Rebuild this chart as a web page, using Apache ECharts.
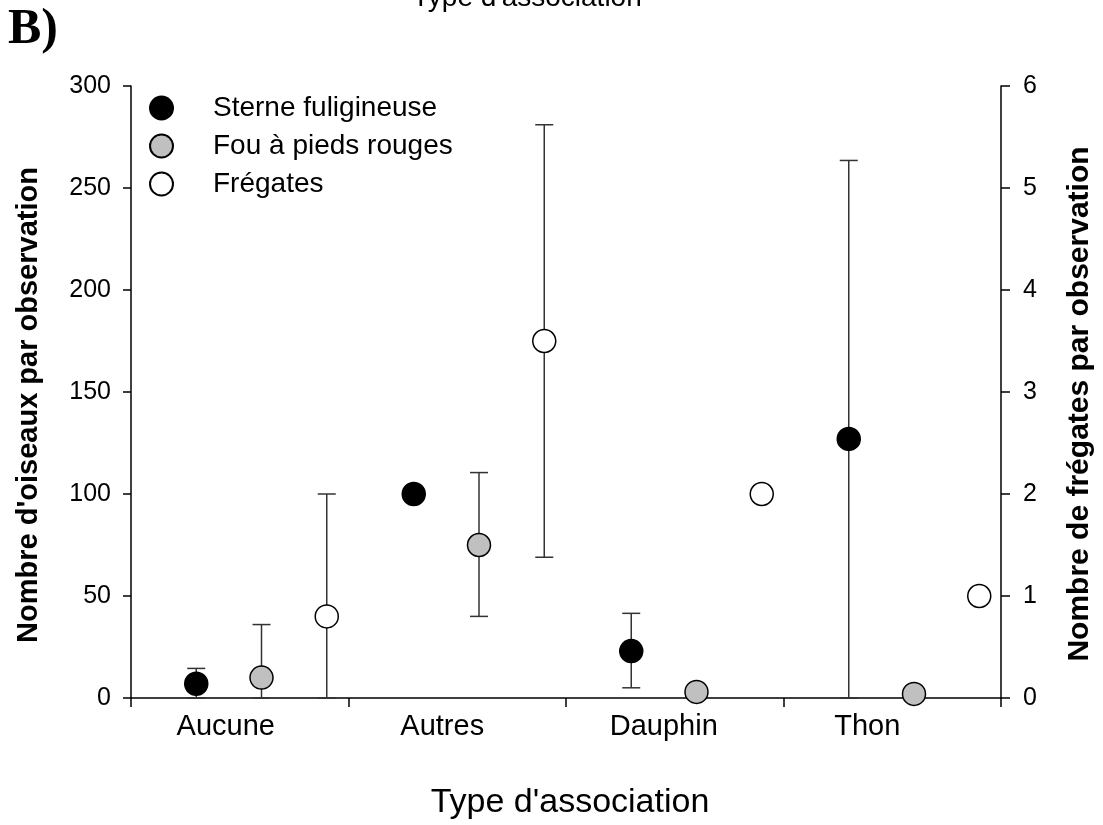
<!DOCTYPE html>
<html>
<head>
<meta charset="utf-8">
<script src="https://cdn.jsdelivr.net/npm/echarts@6/dist/echarts.min.js"></script>
<style>
html,body{margin:0;padding:0;background:#fff;}
#chart{width:1103px;height:825px;}
</style>
</head>
<body>
<div id="chart"></div>
<script>
// ---- data ----
const categories = ['Aucune', 'Autres', 'Dauphin', 'Thon'];
const seriesNames = ['Sterne fuligineuse', 'Fou à pieds rouges', 'Frégates'];
const sterneMean = [7, 100, 23, 127];
const sterneLow  = [0, null, 5, 0];
const sterneHigh = [14.5, null, 41.5, 263.5];
const fouMean = [10, 75, 3, 2];
const fouLow  = [0, 40, null, null];
const fouHigh = [36, 110.5, null, null];
const fregMean = [0.8, 3.5, 2, 1];
const fregLow  = [0, 1.38, null, null];
const fregHigh = [2.0, 5.62, null, null];
const leftTicks = [0, 50, 100, 150, 200, 250, 300];
const rightTicks = [0, 1, 2, 3, 4, 5, 6];
const xTitle = "Type d'association";
const yLeftTitle = "Nombre d'oiseaux par observation";
const yRightTitle = "Nombre de frégates par observation";

// ---- build ----
const FONT = '"Liberation Sans", Arial, sans-serif';
const offsets = [0.3, 0.6, 0.9];
const labelShift = [28, 30, 22, 50];

function pts(mean, k) {
  return mean.map((v, i) => [i + offsets[k], v]);
}
function errs(mean, lo, hi, k) {
  const out = [];
  mean.forEach((v, i) => {
    if (lo[i] != null && hi[i] != null) out.push([i + offsets[k], lo[i], hi[i]]);
  });
  return out;
}
function errRender(params, api) {
  const x = api.value(0);
  const pLo = api.coord([x, api.value(1)]);
  const pHi = api.coord([x, api.value(2)]);
  const cap = 9;
  const st = { stroke: '#333', lineWidth: 1.5 };
  return {
    type: 'group',
    children: [
      { type: 'line', shape: { x1: pLo[0], y1: pLo[1], x2: pHi[0], y2: pHi[1] }, style: st },
      { type: 'line', shape: { x1: pHi[0] - cap, y1: pHi[1], x2: pHi[0] + cap, y2: pHi[1] }, style: st },
      { type: 'line', shape: { x1: pLo[0] - cap, y1: pLo[1], x2: pLo[0] + cap, y2: pLo[1] }, style: st }
    ]
  };
}

const fills = ['#000000', '#c0c0c0', '#ffffff'];
const means = [sterneMean, fouMean, fregMean];
const lows = [sterneLow, fouLow, fregLow];
const highs = [sterneHigh, fouHigh, fregHigh];
const yIdx = [0, 0, 1];

const series = [];
for (let k = 0; k < 3; k++) {
  series.push({
    type: 'custom',
    name: seriesNames[k] + ' err',
    xAxisIndex: 0, yAxisIndex: yIdx[k],
    renderItem: errRender,
    encode: { x: 0, y: [1, 2] },
    data: errs(means[k], lows[k], highs[k], k),
    z: 2, silent: true
  });
}
for (let k = 0; k < 3; k++) {
  series.push({
    type: 'scatter',
    name: seriesNames[k],
    xAxisIndex: 0, yAxisIndex: yIdx[k],
    symbol: 'circle', symbolSize: 23,
    itemStyle: { color: fills[k], borderColor: '#000', borderWidth: 1.5, opacity: 1 },
    data: pts(means[k], k),
    z: 5
  });
}

const rich = {};
categories.forEach((c, i) => {
  rich['c' + i] = { fontSize: 29, fontFamily: FONT, color: '#000', padding: [0, labelShift[i], 0, 0] };
});

const option = {
  backgroundColor: '#fff',
  animation: false,
  textStyle: { fontFamily: FONT },
  grid: { left: 131, right: 92, top: 86, bottom: 123, containLabel: false },
  legend: {
    data: seriesNames,
    orient: 'vertical',
    left: 144, top: 89,
    itemWidth: 23, itemHeight: 23, itemGap: 10,
    icon: 'circle',
    textStyle: { fontSize: 28, color: '#000', fontFamily: FONT, padding: [0, 0, 0, 35] }
  },
  xAxis: [
    {
      type: 'value', min: 0, max: 4, interval: 1,
      position: 'bottom',
      axisLine: { show: true, lineStyle: { color: '#000', width: 1.5 } },
      axisTick: { show: true, inside: false, length: 9, lineStyle: { color: '#000', width: 1.5 } },
      axisLabel: { show: false },
      splitLine: { show: false },
      name: xTitle, nameLocation: 'middle', nameGap: 88,
      nameTextStyle: { fontSize: 34, color: '#000', fontFamily: FONT, padding: [0, 0, 0, 8] }
    },
    {
      type: 'category', data: categories, position: 'bottom', boundaryGap: true,
      axisLine: { show: false }, axisTick: { show: false }, splitLine: { show: false },
      axisLabel: {
        margin: 14, interval: 0,
        formatter: function (v, i) { return '{c' + i + '|' + v + '}'; },
        rich: rich
      }
    }
  ],
  yAxis: [
    {
      type: 'value', min: 0, max: 300, interval: 50, position: 'left',
      axisLine: { show: true, lineStyle: { color: '#000', width: 1.5 } },
      axisTick: { show: true, inside: false, length: 8, lineStyle: { color: '#000', width: 1.5 } },
      axisLabel: { fontSize: 25, color: '#000', margin: 20, fontFamily: FONT,
        formatter: function (v) { return leftTicks.indexOf(v) >= 0 ? String(v) : ''; } },
      splitLine: { show: false },
      name: yLeftTitle, nameLocation: 'middle', nameRotate: 90, nameGap: 88,
      nameTextStyle: { fontSize: 29, fontWeight: 'bold', color: '#000', fontFamily: FONT, padding: [0, 26, 0, 0] }
    },
    {
      type: 'value', min: 0, max: 6, interval: 1, position: 'right',
      axisLine: { show: true, lineStyle: { color: '#000', width: 1.5 } },
      axisTick: { show: true, inside: false, length: 9, lineStyle: { color: '#000', width: 1.5 } },
      axisLabel: { fontSize: 25, color: '#000', margin: 22, fontFamily: FONT,
        formatter: function (v) { return rightTicks.indexOf(v) >= 0 ? String(v) : ''; } },
      splitLine: { show: false },
      name: yRightTitle, nameLocation: 'middle', nameRotate: 90, nameGap: 64,
      nameTextStyle: { fontSize: 30, fontWeight: 'bold', color: '#000', fontFamily: FONT, padding: [0, 24, 0, 0] }
    }
  ],
  graphic: [
    { type: 'text', left: 8, top: 5,
      style: { text: 'B)', fontSize: 50, fontWeight: 'bold', fontFamily: '"Liberation Serif", "Times New Roman", serif', fill: '#000' } },
    { type: 'text', x: 527, y: 12,
      style: { text: xTitle, fontSize: 28, fontFamily: FONT, fill: '#000', align: 'center', verticalAlign: 'bottom' } }
  ],
  series: series
};

const chart = echarts.init(document.getElementById('chart'), null, { renderer: 'canvas' });
chart.setOption(option);
</script>
</body>
</html>
